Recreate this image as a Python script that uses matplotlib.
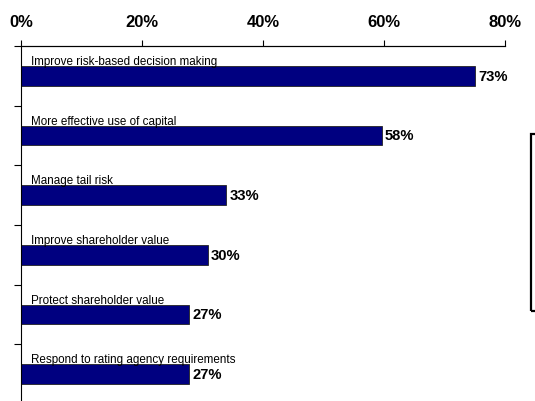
import matplotlib
matplotlib.use('Agg')
from matplotlib import pyplot as plt
from matplotlib.patches import Rectangle

categories = [
    'Improve risk-based decision making',
    'More effective use of capital',
    'Manage tail risk',
    'Improve shareholder value',
    'Protect shareholder value',
    'Respond to rating agency requirements',
]
values = [73, 58, 33, 30, 27, 27]
value_labels = ['73%', '58%', '33%', '30%', '27%', '27%']
tick_values = [0, 20, 40, 60, 80]
tick_labels = ['0%', '20%', '40%', '60%', '80%']

plt.rcParams['font.family'] = ['Liberation Sans', 'DejaVu Sans']

fig = plt.figure(figsize=(5.35, 4.02), dpi=100)
ax = fig.add_axes([21 / 535, -3 / 402, 484 / 535, 358 / 402])

y = list(range(len(categories)))
ax.barh(y, values, height=0.325, color='#000080', edgecolor='#222222', linewidth=0.6)
ax.set_ylim(len(categories) - 0.5, -0.5)
ax.set_xlim(0, 77.8)

for i, (cat, lab) in enumerate(zip(categories, value_labels)):
    ax.annotate(cat, xy=(0, i - 0.2), xytext=(7.5, 0), textcoords='offset points',
                ha='left', va='baseline', fontsize=8.4)
    ax.annotate(lab, xy=(values[i], i), xytext=(2.2, 0), textcoords='offset points',
                ha='left', va='center', fontsize=10.6, fontweight='bold')

# top percentage scale
top = ax.twiny()
top.set_xlim(0, 80)
top.set_xticks(tick_values)
top.set_xticklabels(tick_labels, fontsize=12, fontweight='bold')
top.tick_params(axis='x', direction='out', length=4.5, width=0.8, pad=7.5)
top.tick_params(axis='y', left=False, right=False, labelleft=False, labelright=False)
for s in ['bottom', 'right', 'left']:
    top.spines[s].set_visible(False)
top.spines['top'].set_linewidth(0.8)

# left axis: ticks at category boundaries
ax.set_yticks([k - 0.5 for k in range(len(categories) + 1)])
ax.set_yticklabels([])
ax.tick_params(axis='y', direction='out', length=5, width=0.8, color='black')
ax.set_xticks([])
for s in ['bottom', 'right']:
    ax.spines[s].set_visible(False)
for s in ['left', 'top']:
    ax.spines[s].set_linewidth(0.8)
    ax.spines[s].set_color('black')

# legend box cut off at right edge
fig.patches.append(Rectangle((531 / 535, 90 / 402), 20 / 535, 177 / 402,
                             transform=fig.transFigure, fill=False,
                             edgecolor='black', linewidth=1.6, clip_on=False))

fig.savefig('out.png', dpi=100)
